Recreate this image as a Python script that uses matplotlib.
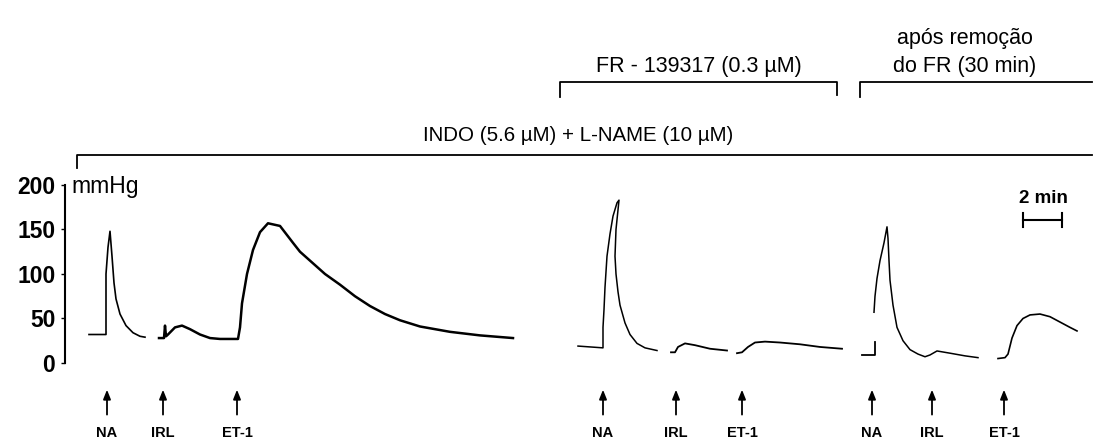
import matplotlib
matplotlib.use("Agg")
import matplotlib.pyplot as plt

plt.rcParams["font.family"] = ["Liberation Sans", "DejaVu Sans"]

# ---- pressure traces (time in min, pressure in mmHg) -------------
# controle: NA, then IRL + ET-1 on one continuous trace
na1_t = [1.2, 2.05, 2.05, 2.15, 2.25, 2.35, 2.45, 2.55, 2.75, 3.05, 3.4, 3.75, 4.0]
na1_p = [32, 32, 100, 130, 148, 120, 90, 72, 55, 42, 34, 30, 29]

et1_t = [4.7, 4.95, 5.0, 5.05, 5.15, 5.5, 5.85, 6.25, 6.75, 7.25, 7.75, 8.65,
         8.75, 8.85, 9.1, 9.4, 9.75, 10.15, 10.75, 11.4, 11.75, 12.4, 13.0,
         13.75, 14.5, 15.25, 16.0, 16.75, 17.75, 19.25, 20.75, 22.4]
et1_p = [28, 28, 42, 30, 32, 40, 42, 38, 32, 28, 27, 27,
         40, 67, 100, 127, 147, 157, 154, 135, 125, 112, 100,
         88, 75, 64, 55, 48, 41, 35, 31, 28]

# FR-139317
na2_t = [25.65, 26.9, 26.9, 26.95, 27.0, 27.1, 27.25, 27.4, 27.6, 27.7,
         27.55, 27.5, 27.55, 27.65, 27.75, 28.0, 28.25, 28.6, 29.0, 29.6]
na2_p = [19, 17, 40, 60, 85, 120, 145, 165, 180, 183,
         150, 120, 100, 80, 65, 45, 32, 22, 17, 14]
irl2_t = [30.3, 30.5, 30.65, 31.0, 31.5, 32.25, 33.1]
irl2_p = [12, 12, 18, 22, 20, 16, 14]
et2_t = [33.6, 33.85, 34.15, 34.5, 35.0, 35.75, 36.75, 37.75, 38.85]
et2_p = [11, 12, 18, 23, 24, 23, 21, 18, 16]

# após remoção do FR
base3_t = [39.85, 40.5, 40.5]
base3_p = [9, 9, 24]
na3_t = [40.45, 40.5, 40.6, 40.75, 40.95, 41.1, 41.15, 41.2, 41.25, 41.4,
         41.6, 41.9, 42.25, 42.65, 43.0, 43.25, 43.6, 44.25, 45.0, 45.65]
na3_p = [57, 75, 95, 115, 135, 153, 140, 115, 93, 65,
         40, 25, 15, 10, 7, 9, 13.5, 11, 8, 6]
et3_t = [46.65, 47.0, 47.15, 47.35, 47.6, 47.9, 48.25, 48.75, 49.25, 49.75, 50.25, 50.6]
et3_p = [5, 6, 10, 28, 42, 50, 54, 55, 52, 46, 40, 36]

# injections
inj_t = [2.1, 4.9, 8.6, 26.9, 30.55, 33.85, 40.35, 43.35, 46.95]
inj_lbl = ["NA", "IRL", "ET-1"] * 3

yticks = [0, 50, 100, 150, 200]

fig = plt.figure(figsize=(10.97, 4.42), dpi=100)
ax = fig.add_axes([0, 0, 1, 1])
ax.set_xlim(-3.25, 51.6)
ax.set_ylim(-88.8, 407.9)

for t, p, lw in [(na1_t, na1_p, 1.2), (et1_t, et1_p, 1.8),
                 (na2_t, na2_p, 1.1), (irl2_t, irl2_p, 1.3), (et2_t, et2_p, 1.3),
                 (base3_t, base3_p, 1.3), (na3_t, na3_p, 1.1), (et3_t, et3_p, 1.2)]:
    ax.plot(t, p, color="black", lw=lw, solid_joinstyle="round")

# y axis
for s in ["top", "right", "bottom"]:
    ax.spines[s].set_visible(False)
ax.spines["left"].set_position(("data", 0))
ax.spines["left"].set_bounds(0, 200)
ax.spines["left"].set_linewidth(1.5)
ax.set_xticks([])
ax.set_yticks(yticks)
ax.tick_params(axis="y", direction="out", length=3, width=1, pad=4, labelsize=16.5)
for lab in ax.get_yticklabels():
    lab.set_fontweight("bold")
ax.text(0.3, 198, "mmHg", fontsize=16.5, va="center", ha="left")

# arrows + labels
for t, lbl in zip(inj_t, inj_lbl):
    ax.annotate("", xy=(t, -30), xytext=(t, -58),
                arrowprops=dict(arrowstyle="-|>,head_length=0.55,head_width=0.22",
                                lw=1.3, color="black", shrinkA=0, shrinkB=0))
    ax.text(t, -79, lbl, fontsize=10.5, fontweight="bold", ha="center", va="center")

# brackets
ax.plot([0.6, 0.6, 51.35], [219, 233.7, 233.7], color="black", lw=1.3)
ax.text(25.65, 256, "INDO (5.6 µM) + L-NAME (10 µM)", fontsize=14.8,
        ha="center", va="center")
ax.plot([24.75, 24.75, 38.6, 38.6], [299, 315.7, 315.7, 301], color="black", lw=1.3)
ax.text(31.7, 333, "FR - 139317 (0.3 µM)", fontsize=15.5, ha="center", va="center")
ax.plot([39.75, 39.75, 51.35], [299, 315.7, 315.7], color="black", lw=1.3)
ax.text(45.0, 365, "após remoção", fontsize=15.5, ha="center", va="center")
ax.text(45.0, 333.5, "do FR (30 min)", fontsize=15.5, ha="center", va="center")

# time scale bar
ax.plot([47.9, 49.85], [160.7, 160.7], color="black", lw=1.5)
ax.plot([47.9, 47.9], [153, 168], color="black", lw=1.5)
ax.plot([49.85, 49.85], [153, 168], color="black", lw=1.5)
ax.text(48.9, 185, "2 min", fontsize=13.5, fontweight="bold", ha="center", va="center")

fig.savefig("out.png", dpi=100)
